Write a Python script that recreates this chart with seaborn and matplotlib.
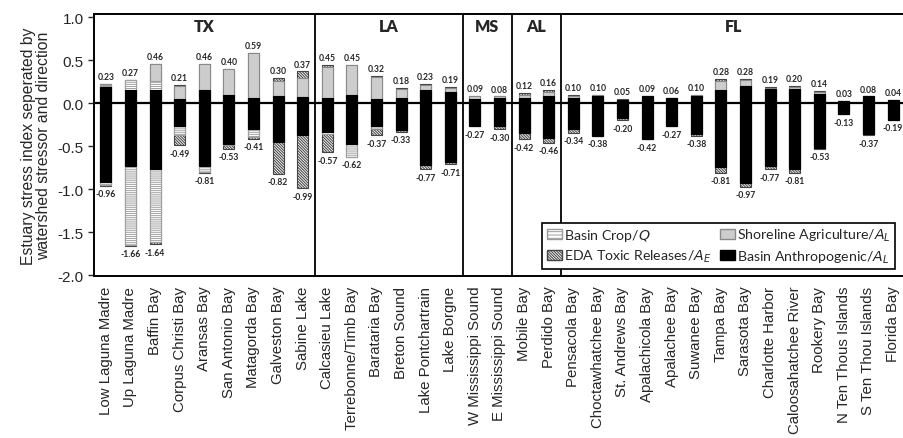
import numpy as np
import matplotlib
matplotlib.use("Agg")
import matplotlib.pyplot as plt
import seaborn as sns
from matplotlib.patches import Patch

#%% Daten

estuaries = ["Low Laguna Madre", "Up Laguna Madre", "Baffin Bay", "Corpus Christi Bay",
             "Aransas Bay", "San Antonio Bay", "Matagorda Bay", "Galveston Bay", "Sabine Lake",
             "Calcasieu Lake", "Terrebonne/Timb Bay", "Barataria Bay", "Breton Sound",
             "Lake Pontchartrain", "Lake Borgne", "W Mississippi Sound", "E Mississippi Sound",
             "Mobile Bay", "Perdido Bay", "Pensacola Bay", "Choctawhatchee Bay", "St. Andrews Bay",
             "Apalachicola Bay", "Apalachee Bay", "Suwanee Bay", "Tampa Bay", "Sarasota Bay",
             "Charlotte Harbor", "Caloosahatchee River", "Rookery Bay", "N Ten Thous Islands",
             "S Ten Thou Islands", "Florida Bay"]

states = ["TX", "LA", "MS", "AL", "FL"]
state_counts = [9, 6, 2, 2, 14]

# positive Richtung (von 0 nach oben): anthro, crop, shore, eda
anthro_pos = [0.19, 0.15, 0.16, 0.05, 0.16, 0.10, 0.06, 0.09, 0.07, 0.06, 0.10, 0.05, 0.06, 0.15, 0.13,
              0.05, 0.06, 0.06, 0.08, 0.06, 0.08, 0.04, 0.09, 0.06, 0.09, 0.15, 0.20, 0.17, 0.17, 0.11,
              0.03, 0.08, 0.04]
crop_pos = [0.02, 0.12, 0.10, 0.00, 0.00, 0.00, 0.00, 0.00, 0.00, 0.00, 0.00, 0.00, 0.00, 0.00, 0.00,
            0.00, 0.00, 0.00, 0.00, 0.00, 0.00, 0.00, 0.00, 0.00, 0.00, 0.00, 0.00, 0.00, 0.00, 0.00,
            0.00, 0.00, 0.00]
shore_pos = [0.01, 0.00, 0.20, 0.15, 0.30, 0.30, 0.53, 0.17, 0.22, 0.36, 0.35, 0.26, 0.11, 0.06, 0.05,
             0.04, 0.02, 0.04, 0.05, 0.03, 0.02, 0.00, 0.00, 0.00, 0.01, 0.11, 0.07, 0.01, 0.02, 0.02,
             0.00, 0.00, 0.00]
eda_pos = [0.01, 0.00, 0.00, 0.01, 0.00, 0.00, 0.00, 0.04, 0.08, 0.03, 0.00, 0.01, 0.01, 0.02, 0.01,
           0.00, 0.00, 0.02, 0.03, 0.01, 0.00, 0.01, 0.00, 0.00, 0.00, 0.02, 0.01, 0.01, 0.01, 0.01,
           0.00, 0.00, 0.00]

# negative Richtung (von 0 nach unten): anthro, shore, crop, eda
anthro_neg = [-0.92, -0.73, -0.76, -0.26, -0.73, -0.47, -0.30, -0.45, -0.37, -0.33, -0.47, -0.27, -0.31,
              -0.72, -0.68, -0.26, -0.26, -0.34, -0.40, -0.30, -0.38, -0.17, -0.42, -0.27, -0.36,
              -0.74, -0.93, -0.73, -0.76, -0.52, -0.13, -0.36, -0.19]
shore_neg = [0.00, 0.00, 0.00, 0.00, 0.00, 0.00, 0.00, 0.00, 0.00, 0.00, 0.00, -0.03, 0.00, 0.00, 0.00,
             0.00, 0.00, 0.00, 0.00, 0.00, 0.00, 0.00, 0.00, 0.00, 0.00, 0.00, 0.00, 0.00, 0.00, 0.00,
             0.00, 0.00, 0.00]
crop_neg = [-0.03, -0.92, -0.86, -0.11, -0.07, -0.01, -0.09, 0.00, 0.00, -0.03, -0.15, 0.00, 0.00, 0.00,
            0.00, 0.00, 0.00, 0.00, 0.00, 0.00, 0.00, 0.00, 0.00, 0.00, 0.00, 0.00, 0.00, 0.00, 0.00,
            0.00, 0.00, 0.00, 0.00]
eda_neg = [-0.01, -0.01, -0.02, -0.12, -0.01, -0.05, -0.02, -0.37, -0.62, -0.21, 0.00, -0.07, -0.02,
           -0.05, -0.03, -0.01, -0.04, -0.08, -0.06, -0.04, 0.00, -0.03, 0.00, 0.00, -0.02, -0.07,
           -0.04, -0.04, -0.05, -0.01, 0.00, -0.01, 0.00]

#%% Stile

sns.set_style("white")
plt.rcParams['font.family'] = ['Liberation Sans', 'DejaVu Sans']
plt.rcParams['hatch.linewidth'] = 0.7

lbl_font = ['Lato', 'DejaVu Sans']

eda_hatch = "\\" * 12
crop_hatch = "-" * 8
styles = {
    "eda":    dict(color="#eeeeee", edgecolor="#444444", hatch=eda_hatch),
    "crop":   dict(color="white", edgecolor="#a0a0a0", hatch=crop_hatch),
    "shore":  dict(color="#cdcdcd", edgecolor="#8a8a8a"),
    "anthro": dict(color="black", edgecolor="black"),
}

fig = plt.figure(figsize=(9.04, 4.39), dpi=100)
ax = fig.add_axes([0.1035, 0.369, 0.898, 0.597])

bw = 0.45

def stack_layers(parts, order):
    # kumulierte Hoehen, aussen zuerst zeichnen
    cum = np.cumsum(np.array(parts), axis=0)
    for k in range(len(order) - 1, -1, -1):
        sns.barplot(x=estuaries, y=cum[k], ax=ax, width=bw, saturation=1,
                    errorbar=None, linewidth=0.8, **styles[order[k]])
    return cum[-1]

tot_pos = stack_layers([anthro_pos, crop_pos, shore_pos, eda_pos], ["anthro", "crop", "shore", "eda"])
tot_neg = stack_layers([anthro_neg, shore_neg, crop_neg, eda_neg], ["anthro", "shore", "crop", "eda"])

xs = np.arange(len(estuaries))
for i in xs:
    ax.annotate(f"{tot_pos[i]:.2f}", (i, tot_pos[i]), xytext=(0, 2), textcoords="offset points",
                ha="center", va="bottom", fontsize=6.2, fontweight="bold", family=lbl_font)
    ax.annotate(f"{tot_neg[i]:.2f}", (i, tot_neg[i]), xytext=(0, -2.5), textcoords="offset points",
                ha="center", va="top", fontsize=6.2, fontweight="bold", family=lbl_font)

ax.axhline(0, color="black", lw=1.6, zorder=5)

# Staaten-Trennlinien und Beschriftung
edges = np.cumsum([0] + state_counts) - 0.5
for e in edges[1:-1]:
    ax.axvline(e, color="black", lw=1.3, zorder=5)
for s, a, b in zip(states, edges[:-1], edges[1:]):
    ax.text((a + b) / 2, 0.895, s, ha="center", va="center", fontsize=11.5,
            fontweight="heavy", family=lbl_font)

ax.set_xlim(-0.5, len(estuaries) - 0.5)
ax.set_ylim(-2.01, 1.04)
ax.set_yticks([1.0, 0.5, 0.0, -0.5, -1.0, -1.5, -2.0])
ax.set_yticklabels(["1.0", "0.5", "0.0", "-0.5", "-1.0", "-1.5", "-2.0"], fontsize=11)
ax.tick_params(axis="y", length=4, width=1, direction="out", left=True, pad=3)
ax.tick_params(axis="x", length=0, pad=7, labelsize=10.8)
plt.setp(ax.get_xticklabels(), rotation=90)
ax.set_xlabel("")
ax.set_ylabel("Estuary stress index seperated by\nwatershed stressor and direction", fontsize=11.3,
              labelpad=5, linespacing=1.0)

for sp in ax.spines.values():
    sp.set_color("black")
    sp.set_linewidth(1.4)

handles = [Patch(facecolor="white", edgecolor="#9a9a9a", hatch="-----", label="Basin Crop/$Q$"),
           Patch(facecolor="#eeeeee", edgecolor="#444444", hatch=eda_hatch, label="EDA Toxic Releases/$A_E$"),
           Patch(facecolor="#cdcdcd", edgecolor="#8a8a8a", label="Shoreline Agriculture/$A_L$"),
           Patch(facecolor="black", edgecolor="black", label="Basin Anthropogenic/$A_L$")]
leg = ax.legend(handles=handles, ncol=2, loc="lower left", bbox_to_anchor=(0.553, 0.027),
                frameon=True, fancybox=False, edgecolor="black", framealpha=1,
                prop=dict(family=lbl_font, size=10.2), handlelength=1.1, handleheight=0.7,
                handletextpad=0.12, columnspacing=0.6, borderpad=0.3, labelspacing=0.35,
                borderaxespad=0)
leg.get_frame().set_linewidth(1.2)
leg.set_zorder(10)

fig.savefig("out.png", dpi=100)
